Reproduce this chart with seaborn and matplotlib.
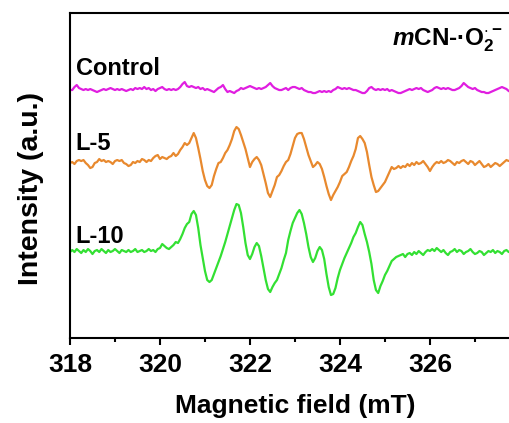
import numpy as np
import pandas as pd
import matplotlib
matplotlib.use("Agg")
import matplotlib.pyplot as plt
from matplotlib.ticker import FixedLocator, MultipleLocator
import seaborn as sns

# Magnetic field grid (mT), 0.05 mT steps
field = np.round(np.arange(318.0, 327.80001, 0.05), 2)

# EPR signal of each sample relative to its own baseline (a.u.)
control = [
    0, 0, 3, 5, 2, 1, 0, 1, 0, 1, 0, -1, -2, -1, 0, 1, 0, 1, 2, 1,
    0, 1, 0, 1, 0, -1, 0, 1, 0, 2, 1, 2, 1, 3, 1, 2, 0, 1, -1, 1,
    2, 3, 1, 0, 1, 0, 1, 0, 1, 3, 6, 8, 4, 3, 4, 3, 2, 3, 1, 2,
    0, 1, 0, -1, -2, 0, 2, 3, 5, 1, -2, -1, -2, -3, -1, 0, 2, 1, 2, 3,
    4, 3, 2, 1, 2, 1, 2, 3, 5, 7, 4, 2, 1, 0, 0, 1, 2, 0, 2, 3,
    3, 2, 1, 2, 0, -1, -2, -2, -3, -3, -2, -1, -2, -1, -2, -1, -2, 0, 1, 3,
    2, 1, 2, 1, 2, 1, 0, 0, -1, -2, -3, -3, -1, 2, 3, 1, 0, 1, 0, 1,
    0, 1, -1, 0, -1, -2, -3, -3, -2, -1, 0, 1, 0, 1, 2, 1, 2, 0, -1, -2,
    -1, 0, 2, 3, 2, 1, 2, 1, 2, 1, 0, 0, 1, 2, 4, 7, 5, 3, 2, 1,
    2, 0, -1, -2, -2, -3, -3, -2, -1, 0, 1, 2, 3, 2, 1, -1, -2,
]
l5 = [
    0, 1, -1, 2, 3, 2, 3, 0, -2, -5, -4, 0, 1, 4, 2, 3, 1, 2, 1, -1,
    2, 3, 2, 3, 0, -1, -3, -2, 1, 0, 2, 1, 4, 3, 1, 3, 2, 5, 7, 8,
    4, 6, 5, 4, 6, 7, 10, 7, 9, 13, 16, 20, 18, 20, 25, 30, 25, 15, 4, -8,
    -17, -23, -25, -22, -13, -6, 0, 1, 5, 10, 13, 18, 24, 32, 36, 34, 28, 21, 14, 5,
    -4, 1, 4, 6, 3, -2, -11, -20, -30, -34, -28, -22, -14, -12, -8, -3, 1, 3, 9, 17,
    25, 29, 30, 30, 24, 16, 8, 2, -4, -2, 1, -1, -6, -14, -23, -31, -37, -32, -28, -24,
    -19, -13, -11, -9, -4, 2, 7, 14, 25, 27, 24, 20, 11, -2, -14, -22, -29, -28, -25, -22,
    -19, -14, -9, -4, -6, -5, -3, -5, -3, -4, -1, -3, 0, -2, 1, -1, 0, 2, -1, -4,
    -8, -4, -1, 1, 0, 2, 0, 1, 3, 2, 0, -2, 1, 0, 2, 3, 1, -1, 2, 1,
    -2, 0, 2, -1, -4, -3, -1, -4, -2, 0, -1, -3, -1, 1, 3, 2, 3,
]
l10 = [
    0, 2, 0, 3, 1, -1, 2, 0, 3, 1, -2, 1, 2, 0, 3, 1, -1, 2, 0, 1,
    3, 1, -1, 2, 1, 0, 2, 0, 1, 3, 0, 1, 2, 0, 1, 3, 1, 2, 0, 3,
    4, 8, 6, 4, 3, 5, 7, 10, 9, 13, 18, 24, 28, 30, 38, 41, 37, 24, 7, -6,
    -19, -28, -30, -28, -22, -16, -10, -4, 3, 10, 18, 26, 34, 42, 48, 47, 39, 25, 9, -3,
    -7, -2, 5, 9, 6, -4, -16, -28, -37, -40, -35, -31, -28, -22, -16, -8, -1, 12, 21, 29,
    34, 39, 42, 38, 29, 18, 5, -5, -10, -6, 1, 5, 2, -7, -22, -35, -43, -42, -36, -26,
    -18, -12, -6, -1, 4, 9, 15, 19, 25, 30, 27, 18, 10, 0, -12, -28, -38, -41, -34, -29,
    -23, -19, -14, -9, -7, -5, -4, -3, -2, -5, -2, -1, -3, 0, -2, 1, -1, -3, 0, 2,
    1, 3, 1, 4, 2, 0, 2, -1, -3, 0, 1, 3, 0, 2, 1, -2, 0, 1, 3, 0,
    -2, -1, 1, 0, -3, -1, 1, 0, 2, -1, 1, 0, -2, 1, 2, 0, 1,
]

samples = ["Control", "L-5", "L-10"]
signals = [control, l5, l10]
field_ticks = [318, 320, 322, 324, 326]

offsets = {"Control": 248, "L-5": 175, "L-10": 86}
colors = {"Control": "#E01EE0", "L-5": "#E8892E", "L-10": "#33E033"}

frames = []
for name, sig in zip(samples, signals):
    frames.append(pd.DataFrame({
        "field": field,
        "intensity": np.asarray(sig, dtype=float) + offsets[name],
        "sample": name,
    }))
df = pd.concat(frames, ignore_index=True)

sns.set_style("ticks")
plt.rcParams["font.family"] = ["Liberation Sans", "DejaVu Sans"]
plt.rcParams["font.weight"] = "bold"
plt.rcParams["text.color"] = "black"
plt.rcParams["axes.labelcolor"] = "black"
plt.rcParams["xtick.color"] = "black"
plt.rcParams["ytick.color"] = "black"
plt.rcParams["mathtext.fontset"] = "custom"
plt.rcParams["mathtext.rm"] = "Liberation Sans:bold"
plt.rcParams["mathtext.it"] = "Liberation Sans:bold:italic"
plt.rcParams["mathtext.bf"] = "Liberation Sans:bold"

fig = plt.figure(figsize=(5.09, 4.23), dpi=100)
# the frame runs on past the right edge of the figure
ax = fig.add_axes([0.1375, 0.2009, 0.884, 0.7683])

sns.lineplot(data=df, x="field", y="intensity", hue="sample",
             palette=colors, hue_order=samples, linewidth=1.6,
             legend=False, ax=ax, sort=False, estimator=None)

ax.set_xlim(318, 328)
ax.set_ylim(0, 325)
ax.xaxis.set_major_locator(FixedLocator(field_ticks))
ax.xaxis.set_minor_locator(MultipleLocator(1))
ax.tick_params(axis="x", which="major", direction="out", length=5, width=1.5,
               labelsize=19, pad=6, colors="black")
ax.tick_params(axis="x", which="minor", direction="out", length=3, width=1.5,
               colors="black")
ax.tick_params(axis="y", left=False, labelleft=False)
for lab in ax.get_xticklabels():
    lab.set_fontweight("bold")
for sp in ax.spines.values():
    sp.set_linewidth(1.5)
    sp.set_color("black")

ax.set_xlabel("Magnetic field (mT)", fontsize=19, fontweight="bold",
              labelpad=12, color="black")
ax.set_ylabel("Intensity (a.u.)", fontsize=20.5, fontweight="bold", color="black")
ax.yaxis.set_label_coords(-0.058, 0.46)

label_pos = {"Control": 270, "L-5": 195, "L-10": 102}
for name in samples:
    ax.text(318.13, label_pos[name], name, fontsize=17, fontweight="bold",
            ha="left", va="center", color="black")

ax.text(325.16, 298, r"$\mathit{m}$CN-·O$_2^{\cdot-}$", fontsize=17.5,
        fontweight="bold", ha="left", va="center", color="black")

fig.savefig("out.png", dpi=100)
